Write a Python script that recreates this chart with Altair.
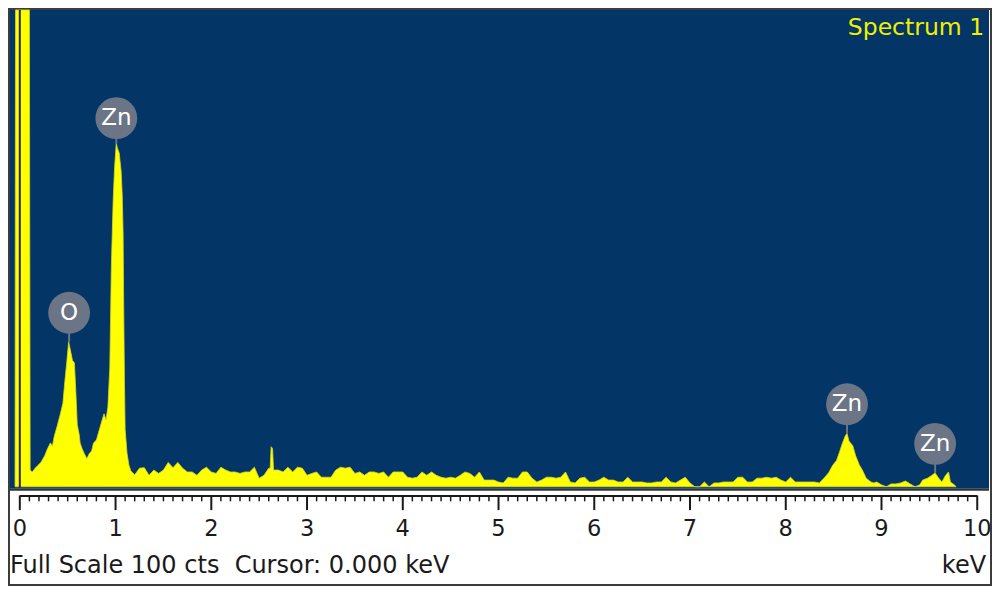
import altair as alt
import pandas as pd

# ---------------- data ----------------
energy_kev = [
    -0.05, -0.045, 0.100, 0.108, 0.13, 0.16, 0.19, 0.22, 0.26, 0.29, 0.32, 0.34, 0.36, 0.39,
    0.42, 0.45, 0.47, 0.49, 0.51, 0.53, 0.55, 0.57, 0.585, 0.60, 0.62, 0.63, 0.65, 0.67,
    0.70, 0.73, 0.75, 0.77, 0.80, 0.82, 0.85, 0.88, 0.90, 0.92, 0.94, 0.956, 0.975, 0.99,
    1.007, 1.02, 1.038, 1.059, 1.07, 1.079, 1.085, 1.093, 1.10, 1.12, 1.14, 1.16,
    1.20, 1.25, 1.30, 1.35, 1.40, 1.45, 1.50, 1.55, 1.60, 1.65, 1.70, 1.75, 1.80, 1.85,
    1.90, 1.95, 2.00, 2.05, 2.10, 2.15, 2.20, 2.25, 2.30, 2.35, 2.40, 2.45, 2.50, 2.55,
    2.60, 2.615, 2.625, 2.64, 2.65, 2.70, 2.75, 2.80, 2.85, 2.90, 2.95, 3.00, 3.05, 3.10,
    3.15, 3.20, 3.25, 3.30, 3.35, 3.40, 3.45, 3.50, 3.55, 3.60, 3.65, 3.70, 3.75, 3.80,
    3.85, 3.90, 3.95, 4.00, 4.05, 4.10, 4.15, 4.20, 4.25, 4.30, 4.35, 4.40, 4.45, 4.50,
    4.55, 4.60, 4.65, 4.70, 4.75, 4.80, 4.85, 4.90, 4.95, 5.00, 5.05, 5.10, 5.15, 5.20,
    5.25, 5.30, 5.35, 5.40, 5.45, 5.50, 5.55, 5.60, 5.65, 5.70, 5.75, 5.80, 5.85, 5.90,
    5.95, 6.00, 6.05, 6.10, 6.15, 6.20, 6.25, 6.30, 6.35, 6.40, 6.45, 6.50, 6.55, 6.60,
    6.65, 6.70, 6.75, 6.80, 6.85, 6.90, 6.95, 7.00, 7.05, 7.10, 7.15, 7.20, 7.25, 7.30,
    7.35, 7.40, 7.45, 7.50, 7.55, 7.60, 7.65, 7.70, 7.75, 7.80, 7.85, 7.90, 7.95, 8.00,
    8.05, 8.10, 8.15, 8.20, 8.25, 8.30, 8.35, 8.40, 8.45, 8.49, 8.53, 8.56, 8.59, 8.62,
    8.64, 8.66, 8.70, 8.73, 8.77, 8.80, 8.84, 8.89, 8.92, 8.95, 9.00, 9.05, 9.10, 9.15,
    9.20, 9.25, 9.30, 9.35, 9.40, 9.43, 9.48, 9.52, 9.56, 9.59, 9.63, 9.67, 9.70, 9.72,
    9.76, 9.78,
]
counts = [
    0, 100, 100, 3.5, 3.1, 3.9, 4.5, 5.1, 6.5, 8.0, 9.2, 8.5, 10.6, 12.7,
    15.0, 17.5, 22.0, 26.0, 30.4, 28.5, 26.5, 26.0, 20.0, 13.0, 11.0, 9.2, 8.0, 7.1,
    5.9, 7.1, 7.5, 9.2, 9.8, 11.2, 13.3, 15.3, 14.0, 16.7, 25.0, 46.0, 60.0, 67.0,
    72.0, 71.0, 70.0, 66.0, 61.0, 53.0, 38.0, 22.0, 12.0, 7.0, 4.5, 3.3,
    2.5, 3.9, 4.0, 2.4, 3.5, 2.8, 3.5, 5.1, 4.0, 5.1, 3.9, 3.1, 3.1, 2.4,
    3.5, 4.1, 3.1, 2.8, 4.1, 3.5, 3.1, 3.1, 2.8, 3.1, 3.1, 4.1, 1.8, 2.4,
    3.9, 3.9, 8.4, 8.0, 3.5, 3.5, 3.1, 4.1, 3.1, 4.1, 3.9, 2.4, 2.8, 3.1,
    2.0, 2.0, 2.0, 3.5, 4.1, 3.9, 4.1, 2.8, 3.1, 2.4, 3.1, 3.1, 2.8, 3.1,
    2.0, 3.1, 3.1, 3.1, 2.0, 1.8, 2.0, 3.1, 2.4, 3.1, 2.4, 2.0, 1.8, 2.0,
    1.8, 2.4, 3.1, 2.8, 2.0, 3.1, 1.4, 1.4, 1.4, 1.0, 0.8, 2.0, 1.8, 1.8,
    3.1, 3.1, 1.8, 1.0, 1.4, 2.0, 2.0, 1.8, 2.0, 3.1, 1.0, 0.8, 1.8, 2.0,
    1.0, 1.0, 1.4, 2.0, 1.4, 1.4, 1.0, 1.0, 2.0, 1.0, 1.0, 1.0, 0.8, 0.8,
    1.0, 1.0, 2.0, 1.0, 0.8, 1.4, 2.0, 0.8, 0.0, 0.0, 1.0, 0.0, 0.8, 0.8,
    1.0, 1.0, 1.0, 2.0, 2.0, 1.0, 1.0, 1.8, 1.8, 2.0, 1.8, 2.0, 1.4, 1.0,
    2.0, 1.0, 1.0, 1.0, 1.0, 1.0, 0.8, 1.8, 3.0, 4.5, 5.5, 7.2, 9.0, 10.6,
    11.2, 9.6, 8.6, 6.5, 4.5, 3.5, 1.8, 1.0, 0.8, 1.0, 0.4, 0.0, 0.6, 0.6,
    0.8, 1.2, 0.6, 0.0, 0.4, 1.4, 1.8, 2.3, 2.9, 2.0, 1.0, 2.4, 3.1, 1.0,
    0.4, 0.0,
]

major_ticks = list(range(0, 11))
major_labels = [str(v) for v in major_ticks]
minor_ticks = [i / 10 for i in range(0, 101) if i % 10 != 0]

peak_labels = ["O", "Zn", "Zn", "Zn"]
peak_kev = [0.515, 1.008, 8.64, 9.56]
peak_badge_cts = [36.5, 77.3, 17.3, 9.0]
peak_top_cts = [30.4, 72.0, 11.2, 2.9]

cursor_kev = [0.0]
axis_span = [0.0, 10.0]

title_text = "Spectrum 1"
status_text = "Full Scale 100 cts\u00a0\u00a0Cursor: 0.000 keV"
unit_text = "keV"

# ---------------- layout helpers ----------------
W, H = 984, 578
SX, SY = W / 1000.0, H / 594.0


def px(v):
    return v * SX


def py(v):
    return v * SY


FONT = "DejaVu Sans"
BLUE = "#033567"
YELLOW = "#ffff00"
BADGE = "#6b7586"
INK = "#1a1a1a"

x_scale = alt.Scale(domain=[-12 / 97.3, 988 / 97.3], nice=False, zero=False)
y_scale = alt.Scale(domain=[(492 - 594) / 4.9, 492 / 4.9], nice=False, zero=False)

spec_df = pd.DataFrame({"keV": energy_kev, "cts": counts})
major_df = pd.DataFrame({"keV": major_ticks, "lab": major_labels})
minor_df = pd.DataFrame({"keV": minor_ticks})
peak_df = pd.DataFrame({"lab": peak_labels, "keV": peak_kev,
                        "badge": peak_badge_cts, "top": peak_top_cts})
cursor_df = pd.DataFrame({"keV": cursor_kev})
span_df = pd.DataFrame({"keV": [axis_span[0]], "keV2": [axis_span[1]]})
one = pd.DataFrame({"t": [title_text], "s": [status_text], "u": [unit_text]})

X = lambda f="keV": alt.X(f"{f}:Q", scale=x_scale, axis=None)

bg = alt.Chart(one).mark_rect(color=BLUE).encode(
    x=alt.value(px(2)), x2=alt.value(px(997)), y=alt.value(py(2)), y2=alt.value(py(494)))

area = alt.Chart(spec_df).mark_area(
    color=YELLOW, clip=True, interpolate="linear",
    stroke="#d6d62a", strokeWidth=0.8).encode(
    x=X(), y=alt.Y("cts:Q", scale=y_scale, axis=None), y2=alt.datum(0))

cursor = alt.Chart(cursor_df).mark_rule(color="#2a2a2a", strokeWidth=2).encode(
    x=X(), y=alt.value(py(2)), y2=alt.value(py(493)))

bottom_line = alt.Chart(one).mark_rule(color="#333333", strokeWidth=2).encode(
    x=alt.value(px(2)), x2=alt.value(px(997)), y=alt.value(py(495)))

axis_line = alt.Chart(span_df).mark_rule(color=INK, strokeWidth=2).encode(
    x=X(), x2="keV2:Q", y=alt.value(py(501.5)))

major = alt.Chart(major_df).mark_rule(color=INK, strokeWidth=2).encode(
    x=X(), y=alt.value(py(501)), y2=alt.value(py(516)))

minor = alt.Chart(minor_df).mark_rule(color=INK, strokeWidth=1.5).encode(
    x=X(), y=alt.value(py(501)), y2=alt.value(py(507)))

tick_labels = alt.Chart(major_df).mark_text(
    font=FONT, fontSize=22.5, color=INK, align="center", baseline="alphabetic").encode(
    x=X(), y=alt.value(py(543)), text="lab:N")

stems = alt.Chart(peak_df).mark_rule(color=BADGE, strokeWidth=2).encode(
    x=X(), y=alt.Y("badge:Q", scale=y_scale, axis=None), y2="top:Q")

badges = alt.Chart(peak_df).mark_circle(color=BADGE, opacity=1, size=1750).encode(
    x=X(), y=alt.Y("badge:Q", scale=y_scale, axis=None))

badge_text = alt.Chart(peak_df).mark_text(
    font=FONT, fontSize=23, color="white", align="center", baseline="middle").encode(
    x=X(), y=alt.Y("badge:Q", scale=y_scale, axis=None), text="lab:N")

title = alt.Chart(one).mark_text(
    font=FONT, fontSize=23.5, color="#f0f000", align="right", baseline="alphabetic").encode(
    x=alt.value(px(992)), y=alt.value(py(28)), text="t:N")

status = alt.Chart(one).mark_text(
    font=FONT, fontSize=24, color=INK, align="left", baseline="alphabetic").encode(
    x=alt.value(px(2)), y=alt.value(py(581)), text="s:N")

unit = alt.Chart(one).mark_text(
    font=FONT, fontSize=24, color=INK, align="right", baseline="alphabetic").encode(
    x=alt.value(px(994)), y=alt.value(py(581)), text="u:N")

chart = alt.layer(
    bg, area, cursor, bottom_line, axis_line, minor, major, tick_labels,
    stems, badges, badge_text, title, status, unit,
).properties(
    width=W, height=H, padding=0, background="white",
    autosize=alt.AutoSizeParams(type="none"),
).configure_view(stroke="#3c3c3c", strokeWidth=4)

chart.save("out.html", embed_options={"renderer": "svg", "actions": False})
